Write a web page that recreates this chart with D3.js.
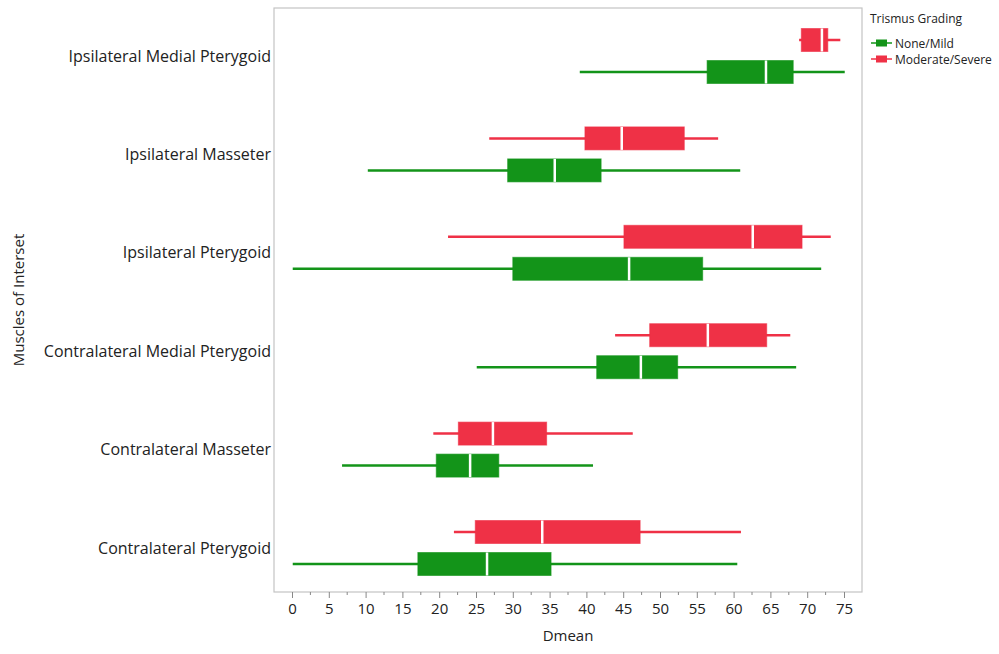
<!DOCTYPE html>
<html>
<head>
<meta charset="utf-8">
<script src="https://cdnjs.cloudflare.com/ajax/libs/d3/7.8.5/d3.min.js"></script>
<style>
body { margin: 0; background: #fff; font-family: 'Open Sans', 'Noto Sans', sans-serif; }
</style>
</head>
<body>
<div id="chart"></div>
<script>
// categories, top to bottom
var muscles = ["Ipsilateral Medial Pterygoid", "Ipsilateral Masseter", "Ipsilateral Pterygoid",
  "Contralateral Medial Pterygoid", "Contralateral Masseter", "Contralateral Pterygoid"];
var groups = ["None/Mild", "Moderate/Severe"];
var xTicks = [0, 5, 10, 15, 20, 25, 30, 35, 40, 45, 50, 55, 60, 65, 70, 75];

// [min, q1, median, q3, max] per muscle
var noneMild = [
  [39.1, 56.4, 64.4, 68.1, 75.1],
  [10.3, 29.3, 35.7, 42.0, 60.9],
  [0.1, 30.0, 45.8, 55.8, 71.9],
  [25.1, 41.4, 47.4, 52.4, 68.5],
  [6.8, 19.6, 24.2, 28.1, 40.9],
  [0.1, 17.1, 26.5, 35.2, 60.5]
];
var moderateSevere = [
  [68.9, 69.2, 72.0, 72.8, 74.5],
  [26.8, 39.8, 44.8, 53.3, 57.9],
  [21.2, 45.1, 62.6, 69.3, 73.2],
  [43.9, 48.6, 56.5, 64.5, 67.7],
  [19.2, 22.6, 27.3, 34.6, 46.3],
  [22.0, 24.9, 34.0, 47.3, 61.0]
];

var colors = { "None/Mild": "#139419", "Moderate/Severe": "#ef3146" };

var svg = d3.select("#chart").append("svg")
  .attr("width", 999).attr("height", 654);

var plotL = 274, plotR = 862, plotT = 8, plotB = 592;

var x = d3.scaleLinear().domain([0, 75]).range([292, 844]);
var y = d3.scalePoint().domain(muscles).range([56, 548]);
var sub = d3.scalePoint().domain(["Moderate/Severe", "None/Mild"]).range([-16, 16]);
var boxH = 23;

// frame
svg.append("rect")
  .attr("x", plotL).attr("y", plotT)
  .attr("width", plotR - plotL).attr("height", plotB - plotT)
  .attr("fill", "none").attr("stroke", "#c4c4c4").attr("stroke-width", 1.2);

// x axis
var xAxis = svg.append("g")
  .attr("transform", "translate(0," + plotB + ")")
  .call(d3.axisBottom(x).tickValues(xTicks).tickSize(6).tickPadding(5).tickSizeOuter(0));
xAxis.select(".domain").remove();
xAxis.selectAll(".tick line").attr("stroke", "#888");
xAxis.selectAll("text").attr("fill", "#222").style("font-size", "15px")
  .style("font-family", "'Open Sans', sans-serif");

// minor ticks
svg.append("g").selectAll("line")
  .data(d3.range(2.5, 75, 5))
  .enter().append("line")
  .attr("x1", function(d) { return x(d); }).attr("x2", function(d) { return x(d); })
  .attr("y1", plotB).attr("y2", plotB + 3)
  .attr("stroke", "#888");

// y axis labels
var yAxis = svg.append("g")
  .attr("transform", "translate(" + plotL + ",0)")
  .call(d3.axisLeft(y).tickSize(0).tickPadding(3));
yAxis.select(".domain").remove();
yAxis.selectAll("text").attr("fill", "#222").style("font-size", "16px")
  .style("font-family", "'Open Sans', sans-serif");

// boxes
function drawBoxes(data, group) {
  var c = colors[group];
  var g = svg.append("g");
  var rows = g.selectAll("g").data(data).enter().append("g")
    .attr("transform", function(d, i) { return "translate(0," + (y(muscles[i]) + sub(group)) + ")"; });

  rows.append("line")
    .attr("x1", function(d) { return x(d[0]); })
    .attr("x2", function(d) { return x(d[4]); })
    .attr("stroke", c).attr("stroke-width", 2.5);

  rows.append("rect")
    .attr("x", function(d) { return x(d[1]); })
    .attr("y", -boxH / 2)
    .attr("width", function(d) { return x(d[3]) - x(d[1]); })
    .attr("height", boxH)
    .attr("fill", c).attr("stroke", c).attr("stroke-opacity", 0.6).attr("stroke-width", 1);

  rows.append("line")
    .attr("x1", function(d) { return x(d[2]); })
    .attr("x2", function(d) { return x(d[2]); })
    .attr("y1", -boxH / 2).attr("y2", boxH / 2)
    .attr("stroke", "#fff").attr("stroke-width", 2.5);
}
drawBoxes(noneMild, "None/Mild");
drawBoxes(moderateSevere, "Moderate/Severe");

// axis titles
svg.append("text")
  .attr("x", x(37.5)).attr("y", 641)
  .attr("text-anchor", "middle")
  .style("font-size", "15px").attr("fill", "#222")
  .text("Dmean");

svg.append("text")
  .attr("text-anchor", "middle")
  .attr("transform", "translate(24,300)rotate(-90)")
  .style("font-size", "15px").attr("fill", "#222")
  .text("Muscles of Interset");

// legend
var legend = svg.append("g").attr("transform", "translate(870,0)");
legend.append("text")
  .attr("x", 0).attr("y", 23)
  .style("font-size", "12px").attr("fill", "#222")
  .text("Trismus Grading");
var items = legend.selectAll(".item").data(groups).enter().append("g")
  .attr("transform", function(d, i) { return "translate(0," + (43 + i * 16) + ")"; });
items.append("line")
  .attr("x1", 1).attr("x2", 22)
  .attr("stroke", function(d) { return colors[d]; }).attr("stroke-width", 1.5);
items.append("rect")
  .attr("x", 6).attr("y", -3.5).attr("width", 11).attr("height", 7)
  .attr("fill", function(d) { return colors[d]; });
items.append("text")
  .attr("x", 25).attr("y", 4.5)
  .style("font-size", "12px").attr("fill", "#222")
  .text(function(d) { return d; });
</script>
</body>
</html>
